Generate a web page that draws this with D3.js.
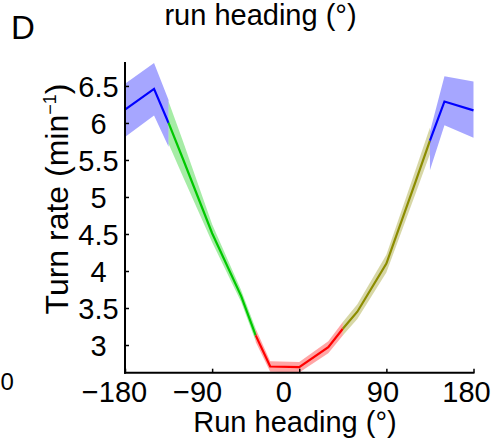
<!DOCTYPE html>
<html><head><meta charset="utf-8">
<script src="https://cdn.jsdelivr.net/npm/d3@7"></script>
<style>body{margin:0;background:#fff}svg text{font-family:"Liberation Sans",Arial,Helvetica,sans-serif;fill:#000}</style>
</head><body>
<svg id="chart" width="494" height="441"></svg>
<script>
// ---- data ----
const xTicks = [-180, -90, 0, 90, 180];
const xTickLabels = ["\u2212180", "\u221290", "0", "90", "180"];
const yTicks = [3, 3.5, 4, 4.5, 5, 5.5, 6, 6.5];
const yTickLabels = ["3", "3.5", "4", "4.5", "5", "5.5", "6", "6.5"];

// heading sectors (deg), mean turn rate and lower/upper band
const blueLeftX  = [-180, -150, -135];
const blueLeftY  = [6.18, 6.46, 6.00];
const blueLeftLo = [5.81, 6.10, 5.68];
const blueLeftHi = [6.53, 6.81, 6.31];

const greenX  = [-135, -120, -90, -60, -45];
const greenY  = [6.00, 5.51, 4.51, 3.66, 3.13];
const greenLo = [5.72, 5.27, 4.39, 3.58, 3.05];
const greenHi = [6.29, 5.75, 4.63, 3.74, 3.22];

const redX  = [-45, -30, 0, 30, 45];
const redY  = [3.13, 2.71, 2.70, 2.97, 3.22];
const redLo = [3.04, 2.64, 2.63, 2.89, 3.13];
const redHi = [3.22, 2.78, 2.77, 3.05, 3.31];

const oliveX  = [45, 60, 90, 120, 135];
const oliveY  = [3.22, 3.45, 4.10, 5.20, 5.76];
const oliveLo = [3.13, 3.35, 3.98, 5.04, 5.58];
const oliveHi = [3.31, 3.55, 4.22, 5.36, 5.94];

const blueRightX  = [135, 150, 180];
const blueRightY  = [5.76, 6.29, 6.17];
const blueRightLo = [5.36, 5.97, 5.80];
const blueRightHi = [5.88, 6.63, 6.56];

// ---- drawing ----
const svg = d3.select("#chart");
const x = d3.scaleLinear().domain([-180, 180]).range([125, 473.5]);
const y = d3.scaleLinear().domain([2.626, 6.81]).range([372.7, 63]);

const segments = [
  {xs: blueLeftX, ys: blueLeftY, lo: blueLeftLo, hi: blueLeftHi, color: "#0000ff"},
  {xs: greenX, ys: greenY, lo: greenLo, hi: greenHi, color: "#00c800"},
  {xs: redX, ys: redY, lo: redLo, hi: redHi, color: "#ff0000"},
  {xs: oliveX, ys: oliveY, lo: oliveLo, hi: oliveHi, color: "#8c8c00"},
  {xs: blueRightX, ys: blueRightY, lo: blueRightLo, hi: blueRightHi, color: "#0000ff"}
];

const area = d3.area().x(d => x(d.x)).y0(d => y(d.lo)).y1(d => y(d.hi));
const line = d3.line().x(d => x(d.x)).y(d => y(d.y));

segments.forEach(s => {
  const pts = s.xs.map((v, i) => ({x: v, y: s.ys[i], lo: s.lo[i], hi: s.hi[i]}));
  svg.append("path").attr("d", area(pts)).attr("fill", s.color).attr("fill-opacity", 0.35).attr("stroke", "none");
  svg.append("path").attr("d", line(pts)).attr("fill", "none").attr("stroke", s.color).attr("stroke-width", 2.2).attr("stroke-linejoin", "miter");
});

// axes
const yAxis = svg.append("g").attr("transform", "translate(125,0)")
  .call(d3.axisLeft(y).tickValues(yTicks).tickSize(-4).tickSizeOuter(0).tickFormat((d, i) => yTickLabels[i]));
const xAxis = svg.append("g").attr("transform", "translate(0,372.7)")
  .call(d3.axisBottom(x).tickValues(xTicks).tickSize(-4).tickSizeOuter(0).tickFormat((d, i) => xTickLabels[i]));

[yAxis, xAxis].forEach(g => {
  g.select(".domain").attr("stroke", "#000").attr("stroke-width", 2).attr("stroke-linecap", "square");
  g.selectAll(".tick line").attr("stroke", "#000").attr("stroke-width", 1.5);
  g.selectAll(".tick text").attr("font-size", 29).attr("fill", "#000");
});
yAxis.select(".domain").attr("d", `M0,${y(6.81)}V${y(2.626)}`);
xAxis.select(".domain").attr("d", `M${x(-180)},0H${x(180)}`);
yAxis.selectAll(".tick text").attr("x", -26.5).attr("text-anchor", "middle").attr("dy", "0.35em");
const xLabelShift = [-11, -15, -16, -4, -7.5];
xAxis.selectAll(".tick text").attr("y", 29.5).attr("dy", 0).attr("dx", (d, i) => xLabelShift[i]);

// labels
svg.append("text").attr("x", 295).attr("y", 431.5).attr("text-anchor", "middle").attr("font-size", 29).text("Run heading (\u00b0)");
svg.append("text").attr("x", 260.5).attr("y", 25).attr("text-anchor", "middle").attr("font-size", 29).text("run heading (\u00b0)");
svg.append("text").attr("x", 11).attr("y", 39).attr("font-size", 33).text("D");
svg.append("text").attr("x", 0.5).attr("y", 390).attr("font-size", 24).text("0");

const yl = svg.append("text").attr("transform", "translate(68,199) rotate(-90)")
  .attr("text-anchor", "middle").attr("font-size", 32);
yl.append("tspan").text("Turn rate (min");
yl.append("tspan").attr("font-size", 18).attr("dy", -12).text("\u22121");
yl.append("tspan").attr("dy", 12).text(")");
</script>
</body></html>
